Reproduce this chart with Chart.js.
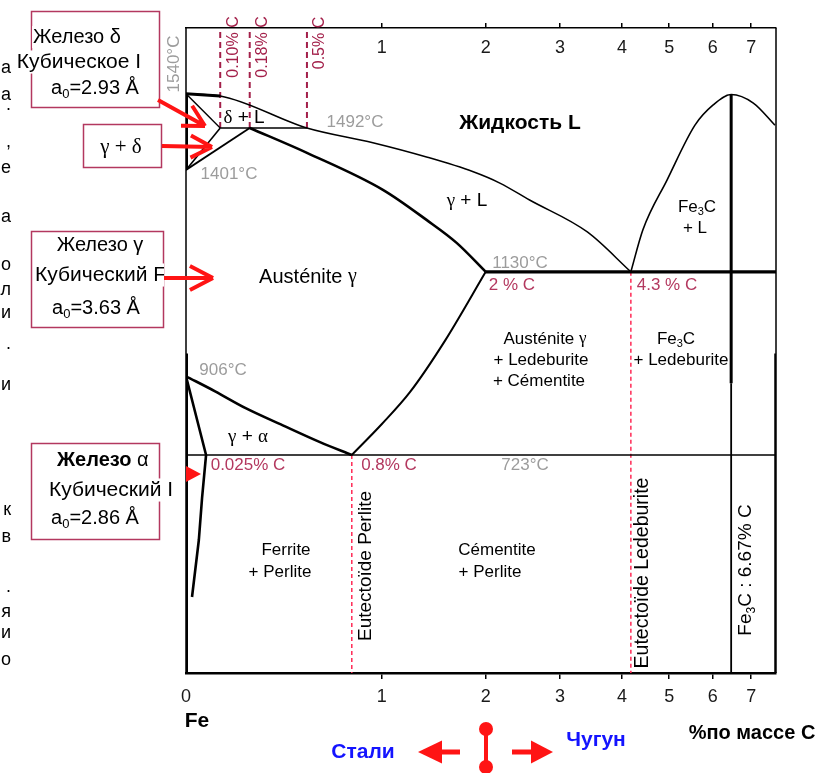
<!DOCTYPE html>
<html>
<head>
<meta charset="utf-8">
<title>Диаграмма железо – углерод</title>
<script src="https://cdn.jsdelivr.net/npm/chart.js@4.4.0/dist/chart.umd.min.js"></script>
<style>
  html, body { margin: 0; padding: 0; background: #fff; }
  #wrap { width: 820px; height: 773px; }
</style>
</head>
<body>
<div id="wrap"><canvas id="diagram" width="820" height="773"></canvas></div>
<script>
"use strict";

// ---- axes -------------------------------------------------------------
const carbonTicks = [0, 1, 2, 3, 4, 5, 6, 7];
const carbonTicksTop = [1, 2, 3, 4, 5, 6, 7];

// the diagram is stretched near pure iron: value -> share of the axis length
const carbonScale = [[0, 0], [0.025, 0.034], [0.1, 0.058], [0.18, 0.108], [0.5, 0.205], [0.8, 0.281],
    [1, 0.332], [2, 0.508], [3, 0.634], [4, 0.739], [4.3, 0.754], [5, 0.819], [6, 0.893],
    [6.67, 0.924], [7, 0.958], [7.7, 1]];
const tempScale = [[0, 0], [723, 0.338], [906, 0.46], [1130, 0.622], [1401, 0.78],
    [1492, 0.845], [1540, 0.898], [1700, 1]];

// ---- phase boundaries (% C, °C) --------------------------------------
const liquidusC = [0, 0.1, 0.5, 0.94, 1.43, 1.88, 2.19, 2.59, 3.44, 4.3];
const liquidusT = [1540, 1537, 1492, 1460, 1429, 1396, 1366, 1321, 1236, 1130];
const solidusC = [0.18, 0.5, 1.01, 1.43, 1.72, 2];
const solidusT = [1492, 1438, 1348, 1268, 1207, 1130];
const cementiteLiqC = [4.3, 4.52, 4.96, 5.59, 6.0, 6.67, 7.06, 7.67];
const cementiteLiqT = [1130, 1242, 1374, 1496, 1524, 1539, 1527, 1496];
const a3C = [0, 0.073, 0.169, 0.365, 0.587, 0.8];
const a3T = [906, 871, 832, 792, 753, 723];
const acmC = [0.8, 1.0, 1.27, 1.61, 2];
const acmT = [723, 795, 869, 983, 1130];
const ferriteC = [0, 0.025, 0.02, 0.016, 0.0075];
const ferriteT = [906, 723, 580, 441, 252];

const deltaTopC = [0, 0.1], deltaTopT = [1540, 1537];
const deltaC = [0, 0.1], deltaT = [1540, 1492];
const deltaGammaC = [0, 0.1], deltaGammaT = [1401, 1492];
const gammaDeltaC = [0, 0.18], gammaDeltaT = [1401, 1492];
const peritecticC = [0.1, 0.5], peritecticT = [1492, 1492];
const eutecticC = [2, 7.7], eutecticT = [1130, 1130];
const eutectoidC = [0, 7.7], eutectoidT = [723, 723];
const fe3cUpperC = [6.67, 6.67], fe3cUpperT = [1539, 890];
const fe3cLowerC = [6.67, 6.67], fe3cLowerT = [890, 0];
const pureDeltaC = [0, 0], pureDeltaT = [1540, 1401];
const pureAlphaC = [0, 0], pureAlphaT = [955, 0];
const edgeC = [7.7, 7.7], edgeT = [955, 0];

// marked compositions
const upperMarksC = [0.1, 0.18, 0.5];
const upperMarkLabels = ["0.10% C", "0.18% C", "0.5% C"];
const lowerMarksC = [0.8, 4.3];
const lowerMarksFromT = [723, 1130];

// glyphs of the neighbouring column cut by the left edge
const marginGlyphs = [["а", 73], ["а", 100], [".", 110], [",", 147], ["е", 173], ["а", 222],
    ["о", 270], ["л", 295], ["и", 318], [".", 349], ["и", 390], ["к", 515], ["в", 542],
    [".", 592], ["я", 617], ["и", 638], ["о", 665]];

const FONT = '"Liberation Sans", Arial, sans-serif';

// ---- stretched scale --------------------------------------------------
const axisWarp = { x: carbonScale, xTop: carbonScale, y: tempScale };

function warp(table, v) {
    for (let i = 1; i < table.length; i++) {
        const [v0, f0] = table[i - 1];
        const [v1, f1] = table[i];
        if (v <= v1 || i === table.length - 1) {
            return f0 + (v - v0) / (v1 - v0) * (f1 - f0);
        }
    }
    return 0;
}

function unwarp(table, f) {
    for (let i = 1; i < table.length; i++) {
        const [v0, f0] = table[i - 1];
        const [v1, f1] = table[i];
        if (f <= f1 || i === table.length - 1) {
            return v0 + (f - f0) / (f1 - f0) * (v1 - v0);
        }
    }
    return 0;
}

class WarpScale extends Chart.LinearScale {
    getPixelForValue(value) {
        if (value === null || value === undefined || isNaN(value)) {
            return NaN;
        }
        return this.getPixelForDecimal(warp(axisWarp[this.id], value));
    }
    getValueForPixel(pixel) {
        return unwarp(axisWarp[this.id], this.getDecimalForPixel(pixel));
    }
}
WarpScale.id = "warp";
WarpScale.defaults = Chart.LinearScale.defaults;
Chart.register(WarpScale);

// ---- datasets ---------------------------------------------------------
let datasets = [];

function addLine(cs, ts, style) {
    datasets.push(Object.assign({
        data: cs.map((c, i) => ({ x: c, y: ts[i] })),
        showLine: true,
        pointRadius: 0,
        borderColor: "#000",
        borderWidth: 1.5,
        fill: false,
        tension: 0
    }, style));
}

const smooth = { cubicInterpolationMode: "monotone" };

addLine(liquidusC, liquidusT, Object.assign({ borderWidth: 1.5 }, smooth));
addLine(solidusC, solidusT, Object.assign({ borderWidth: 2.6 }, smooth));
addLine(cementiteLiqC, cementiteLiqT, Object.assign({ borderWidth: 1.6 }, smooth));
addLine(a3C, a3T, Object.assign({ borderWidth: 2.6 }, smooth));
addLine(acmC, acmT, Object.assign({ borderWidth: 2 }, smooth));
addLine(ferriteC, ferriteT, { borderWidth: 2.6 });
addLine(deltaTopC, deltaTopT, { borderWidth: 3 });
addLine(deltaC, deltaT, { borderWidth: 1.4 });
addLine(deltaGammaC, deltaGammaT, { borderWidth: 1.6 });
addLine(gammaDeltaC, gammaDeltaT, { borderWidth: 1.8 });
addLine(peritecticC, peritecticT, { borderWidth: 1.6 });
addLine(eutecticC, eutecticT, { borderWidth: 3.2 });
addLine(eutectoidC, eutectoidT, { borderWidth: 1.6 });
addLine(fe3cUpperC, fe3cUpperT, { borderWidth: 3 });
addLine(fe3cLowerC, fe3cLowerT, { borderWidth: 1.8 });
addLine(pureDeltaC, pureDeltaT, { borderWidth: 4 });
addLine(pureAlphaC, pureAlphaT, { borderWidth: 4 });
addLine(edgeC, edgeT, { borderWidth: 3.5 });

upperMarksC.forEach((c) => {
    addLine([c, c], [1492, 1700], { borderColor: "#a3204a", borderWidth: 2, borderDash: [6, 4] });
});
lowerMarksC.forEach((c, i) => {
    addLine([c, c], [lowerMarksFromT[i], 0], { borderColor: "#ff2a55", borderWidth: 1.5, borderDash: [4, 3] });
});

// ---- drawing helpers --------------------------------------------------
function fontFor(kind, size) {
    if (kind === "sub") {
        return `${Math.round(size * 0.65)}px ${FONT}`;
    }
    if (kind === "bold") {
        return `bold ${size}px ${FONT}`;
    }
    if (kind === "serif") {
        return `${size}px "Liberation Serif", serif`;
    }
    return `${size}px ${FONT}`;
}

// parts: [text, kind] with kind "" | "sub" | "bold" | "serif"
function richWidth(ctx, parts, size) {
    let w = 0;
    parts.forEach(([t, kind]) => {
        ctx.font = fontFor(kind, size);
        w += ctx.measureText(t).width;
    });
    return w;
}

function drawRich(ctx, parts, cx, cy, size, color, opts = {}) {
    const w = richWidth(ctx, parts, size);
    let x = opts.left !== undefined ? opts.left : cx - w / 2;
    if (opts.backdrop) {
        ctx.fillStyle = "#fff";
        ctx.fillRect(x - 1, cy - size * 0.55, w + 2, size * 1.1);
    }
    ctx.fillStyle = color;
    ctx.textBaseline = "middle";
    ctx.textAlign = "left";
    parts.forEach(([t, kind]) => {
        ctx.font = fontFor(kind, size);
        ctx.fillText(t, x, cy + (kind === "sub" ? size * 0.3 : 0));
        x += ctx.measureText(t).width;
    });
}

function label(ctx, str, cx, cy, size, color, kind = "") {
    drawRich(ctx, [[str, kind]], cx, cy, size, color);
}

function vlabel(ctx, parts, cx, cy, size, color) {
    ctx.save();
    ctx.translate(cx, cy);
    ctx.rotate(-Math.PI / 2);
    drawRich(ctx, parts, 0, 0, size, color);
    ctx.restore();
}

function openArrow(ctx, x0, y0, x1, y1, head, spread) {
    const ang = Math.atan2(y1 - y0, x1 - x0);
    ctx.beginPath();
    ctx.moveTo(x0, y0);
    ctx.lineTo(x1, y1);
    [-1, 1].forEach((s) => {
        const a = ang + Math.PI + s * spread;
        ctx.moveTo(x1, y1);
        ctx.lineTo(x1 + head * Math.cos(a), y1 + head * Math.sin(a));
    });
    ctx.stroke();
}

function solidArrow(ctx, xFrom, xBase, xTip, y) {
    ctx.fillRect(Math.min(xFrom, xBase), y - 2.5, Math.abs(xBase - xFrom), 5);
    ctx.beginPath();
    ctx.moveTo(xTip, y);
    ctx.lineTo(xBase, y - 11.5);
    ctx.lineTo(xBase, y + 11.5);
    ctx.closePath();
    ctx.fill();
}

const GRAY = "#9c9c9c";
const CRIMSON = "#b3385f";
const BLUE = "#1414ff";
const RED = "#ff1414";
const BOX = "#b3385f";

const annotate = {
    id: "annotate",
    beforeDatasetsDraw(chart) {
        const { ctx, chartArea: a } = chart;
        ctx.save();
        ctx.strokeStyle = "#000";
        ctx.lineWidth = 1.5;
        ctx.beginPath();
        ctx.moveTo(a.left, a.top);
        ctx.lineTo(a.left, a.bottom);
        ctx.moveTo(a.right, a.top);
        ctx.lineTo(a.right, a.bottom);
        ctx.stroke();
        ctx.restore();
    },
    afterDraw(chart) {
        const ctx = chart.ctx;
        const xs = chart.scales.x;
        ctx.save();

        // temperatures
        vlabel(ctx, [["1540°C", ""]], 174, 64, 17, GRAY);
        label(ctx, "1492°C", 355, 122, 17, GRAY);
        label(ctx, "1401°C", 229, 174, 17, GRAY);
        label(ctx, "1130°C", 520, 263, 17, GRAY);
        label(ctx, "906°C", 223, 370, 17, GRAY);
        label(ctx, "723°C", 525, 465, 17, GRAY);

        // compositions
        upperMarksC.forEach((c, i) => {
            vlabel(ctx, [[upperMarkLabels[i], ""]], xs.getPixelForValue(c) + 13, i === 2 ? 43 : 47, 16, "#a3204a");
        });
        label(ctx, "2 % C", 512, 285, 17, CRIMSON);
        label(ctx, "4.3 % C", 667, 285, 17, CRIMSON);
        label(ctx, "0.025% C", 248, 465, 17, CRIMSON);
        label(ctx, "0.8% C", 389, 465, 17, CRIMSON);

        // phase fields
        drawRich(ctx, [["δ", "serif"], [" + L", ""]], 244, 118, 19, "#000");
        label(ctx, "Жидкость L", 520, 123, 21, "#000", "bold");
        drawRich(ctx, [["γ", "serif"], [" + L", ""]], 467, 201, 19, "#000");
        drawRich(ctx, [["Fe", ""], ["3", "sub"], ["C", ""]], 697, 207, 17, "#000");
        label(ctx, "+ L", 695, 228, 17, "#000");
        drawRich(ctx, [["Austénite ", ""], ["γ", "serif"]], 308, 277, 20, "#000");
        drawRich(ctx, [["Austénite ", ""], ["γ", "serif"]], 545, 339, 17, "#000");
        label(ctx, "+ Ledeburite", 541, 360, 17, "#000");
        label(ctx, "+ Cémentite", 539, 381, 17, "#000");
        drawRich(ctx, [["Fe", ""], ["3", "sub"], ["C", ""]], 676, 339, 17, "#000");
        label(ctx, "+ Ledeburite", 681, 360, 17, "#000");
        drawRich(ctx, [["γ", "serif"], [" + ", ""], ["α", "serif"]], 248, 437, 19, "#000");
        label(ctx, "Ferrite", 286, 550, 17, "#000");
        label(ctx, "+ Perlite", 280, 572, 17, "#000");
        label(ctx, "Cémentite", 497, 550, 17, "#000");
        label(ctx, "+ Perlite", 490, 572, 17, "#000");
        vlabel(ctx, [["Eutectoïde Perlite", ""]], 366, 566, 19, "#000");
        vlabel(ctx, [["Eutectoïde Ledeburite", ""]], 643, 573, 19.5, "#000");
        vlabel(ctx, [["Fe", ""], ["3", "sub"], ["C : 6.67% C", ""]], 746, 570, 19, "#000");

        // axis captions
        label(ctx, "Fe", 197, 721, 21, "#000", "bold");
        label(ctx, "%по массе C", 752, 733, 20, "#000", "bold");
        label(ctx, "Стали", 363, 752, 21, BLUE, "bold");
        label(ctx, "Чугун", 596, 740, 21, BLUE, "bold");

        // steel / cast iron divider
        ctx.fillStyle = RED;
        ctx.strokeStyle = RED;
        ctx.lineWidth = 4;
        ctx.beginPath();
        ctx.moveTo(486, 729);
        ctx.lineTo(486, 767);
        ctx.stroke();
        [729, 767].forEach((cy) => {
            ctx.beginPath();
            ctx.arc(486, cy, 7, 0, Math.PI * 2);
            ctx.fill();
        });
        solidArrow(ctx, 460, 442, 418, 752);
        solidArrow(ctx, 512, 531, 553, 752);

        // crystal lattice boxes
        ctx.strokeStyle = BOX;
        ctx.lineWidth = 1.5;
        ctx.strokeRect(31.5, 11.5, 128, 96);
        ctx.strokeRect(83.5, 124.5, 78, 43);
        ctx.strokeRect(31.5, 231.5, 132, 96);
        ctx.strokeRect(31.5, 443.5, 128, 96);

        const bt = { backdrop: true };
        drawRich(ctx, [["Железо δ", ""]], 77, 37, 20, "#000", bt);
        drawRich(ctx, [["Кубическое I", ""]], 79, 62, 21, "#000", bt);
        drawRich(ctx, [["a", ""], ["0", "sub"], ["=2.93 Å", ""]], 95, 88, 20, "#000", bt);
        drawRich(ctx, [["γ + δ", "serif"]], 121, 147, 21, "#000");

        drawRich(ctx, [["Железо γ", ""]], 100, 245, 20, "#000", bt);
        ctx.save();
        ctx.beginPath();
        ctx.rect(0, 255, 164, 40);
        ctx.clip();
        drawRich(ctx, [["Кубический F", ""]], 0, 275, 21, "#000", { backdrop: true, left: 35 });
        ctx.restore();
        drawRich(ctx, [["a", ""], ["0", "sub"], ["=3.63 Å", ""]], 96, 308, 20, "#000", bt);

        drawRich(ctx, [["Железо", "bold"], [" α", ""]], 0, 460, 20, "#000", { backdrop: true, left: 57 });
        drawRich(ctx, [["Кубический I", ""]], 111, 490, 21, "#000", bt);
        drawRich(ctx, [["a", ""], ["0", "sub"], ["=2.86 Å", ""]], 95, 518, 20, "#000", bt);

        // pointers into the diagram
        ctx.strokeStyle = RED;
        ctx.fillStyle = RED;
        ctx.lineWidth = 4;
        openArrow(ctx, 158, 100, 205, 126, 24, 0.5);
        openArrow(ctx, 162, 146, 212, 147, 24, 0.48);
        openArrow(ctx, 164, 278, 213, 278, 26, 0.48);
        ctx.beginPath();
        ctx.moveTo(186, 466);
        ctx.lineTo(201, 474);
        ctx.lineTo(186, 482);
        ctx.closePath();
        ctx.fill();

        // cut-off column on the far left
        ctx.fillStyle = "#000";
        ctx.font = `18px ${FONT}`;
        ctx.textAlign = "right";
        ctx.textBaseline = "alphabetic";
        marginGlyphs.forEach(([g, y]) => ctx.fillText(g, 11, y));

        ctx.restore();
    }
};

const tickFont = { family: "Liberation Sans", size: 18 };

new Chart(document.getElementById("diagram"), {
    type: "scatter",
    data: { datasets: datasets },
    options: {
        responsive: false,
        animation: false,
        events: [],
        layout: { padding: { left: 186, right: 44, top: 28, bottom: 60 } },
        plugins: { legend: { display: false }, tooltip: { enabled: false } },
        scales: {
            x: {
                type: "warp",
                position: "bottom",
                min: 0,
                max: 7.7,
                afterBuildTicks: (s) => { s.ticks = carbonTicks.map((v) => ({ value: v })); },
                afterFit: (s) => { s.height = 40; },
                ticks: { autoSkip: false, maxRotation: 0, padding: 7, font: tickFont, color: "#1a1a1a", callback: (v) => String(v) },
                grid: {
                    drawOnChartArea: false,
                    tickLength: 6,
                    lineWidth: 1.5,
                    color: (c) => (c.tick && c.tick.value === 0 ? "rgba(0,0,0,0)" : "#000")
                },
                border: { display: true, color: "#000", width: 2.5 }
            },
            xTop: {
                type: "warp",
                position: "top",
                min: 0,
                max: 7.7,
                afterBuildTicks: (s) => { s.ticks = carbonTicksTop.map((v) => ({ value: v })); },
                afterFit: (s) => { s.height = 0; },
                // labels sit inside the plot, under the top edge
                ticks: { autoSkip: false, maxRotation: 0, mirror: true, padding: 9, font: tickFont, color: "#1a1a1a", callback: (v) => String(v) },
                grid: { drawOnChartArea: false, tickLength: 5, lineWidth: 1.5, color: "#000" },
                border: { display: true, color: "#000", width: 1.5 }
            },
            y: {
                type: "warp",
                min: 0,
                max: 1700,
                display: false
            }
        }
    },
    plugins: [annotate]
});
</script>
</body>
</html>
